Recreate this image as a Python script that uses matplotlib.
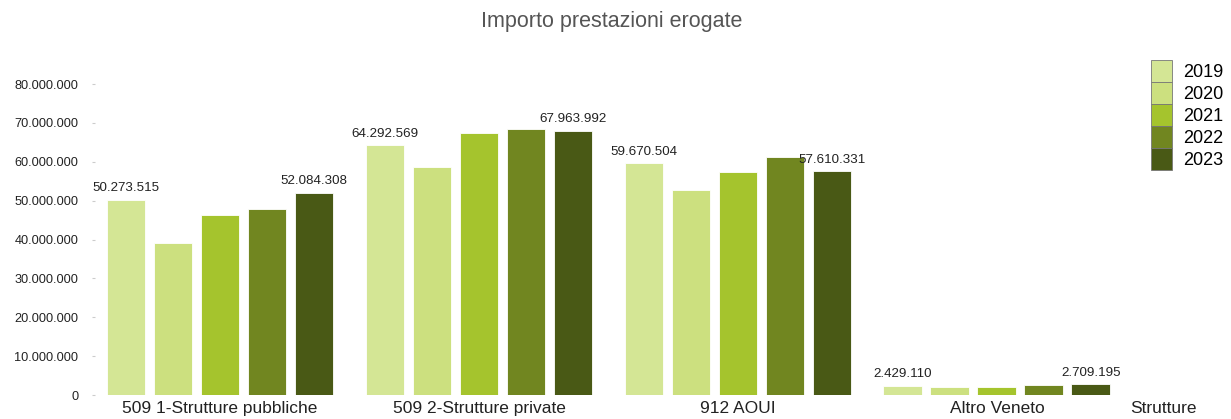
import matplotlib

matplotlib.use("Agg")
import matplotlib.pyplot as plt
import numpy as np
from matplotlib.ticker import FuncFormatter

plt.rcParams["font.family"] = ["Liberation Sans", "DejaVu Sans"]

# data
categories = ["509 1-Strutture pubbliche", "509 2-Strutture private", "912 AOUI", "Altro Veneto"]
years = ["2019", "2020", "2021", "2022", "2023"]
values_2019 = [50273515, 64292569, 59670504, 2429110]
values_2020 = [39000000, 58750000, 52750000, 2100000]
values_2021 = [46400000, 67300000, 57300000, 2150000]
values_2022 = [47900000, 68400000, 61300000, 2600000]
values_2023 = [52084308, 67963992, 57610331, 2709195]
labelled_years = ["2019", "2023"]

YEAR_COLORS = ["#d4e695", "#cce07f", "#a5c42d", "#718620", "#495915"]


def _dotted(v, _pos=None):
    return f"{int(round(v)):,}".replace(",", ".")


series = [values_2019, values_2020, values_2021, values_2022, values_2023]

W, H = 1231, 419
fig = plt.figure(figsize=(W / 100, H / 100), dpi=100)
ax = fig.add_axes([95 / W, 24 / H, (1130 - 95) / W, (395 - 84) / H])

x = np.arange(len(categories))
pitch = 0.1815
width = 0.15
for i, (year, vals) in enumerate(zip(years, series)):
    pos = x + (i - 2) * pitch
    ax.bar(pos, vals, width=width, color=YEAR_COLORS[i], edgecolor="white",
           linewidth=0.6, label=year)
    if year in labelled_years:
        for px, v in zip(pos, vals):
            ax.text(px, v + 1.4e6, _dotted(v), ha="center", va="bottom",
                    fontsize=9.6, color="#222222")

ax.set_xlim(-0.483, 3.514)
ax.set_ylim(0, 80e6)
ax.set_yticks(np.arange(0, 80e6 + 1, 10e6))
ax.yaxis.set_major_formatter(FuncFormatter(_dotted))
ax.tick_params(axis="y", length=2, color="#cccccc", labelsize=9.2, labelcolor="#222222", pad=10)
ax.set_xticks(x)
ax.set_xticklabels(categories)
ax.tick_params(axis="x", length=0, labelsize=12.5, labelcolor="#222222", pad=4)
for side in ["top", "right", "left", "bottom"]:
    ax.spines[side].set_visible(False)

ax.set_xlabel("Strutture", fontsize=12.5, color="#222222")
ax.xaxis.set_label_coords(1.032, -0.042)
ax.xaxis.label.set_verticalalignment("center")

fig.text(612 / W, 1 - 22 / H, "Importo prestazioni erogate", ha="center", va="center",
         fontsize=15.5, color="#555555")

leg = fig.legend(loc="upper left", bbox_to_anchor=(1151 / W, 1 - 60 / H), frameon=False,
                 fontsize=13, handlelength=1.17, handleheight=1.5, labelspacing=0,
                 handletextpad=0.6, borderpad=0, borderaxespad=0)
for patch in leg.get_patches():
    patch.set_edgecolor("#777777")
    patch.set_linewidth(0.6)

fig.savefig("out.png", dpi=100)
